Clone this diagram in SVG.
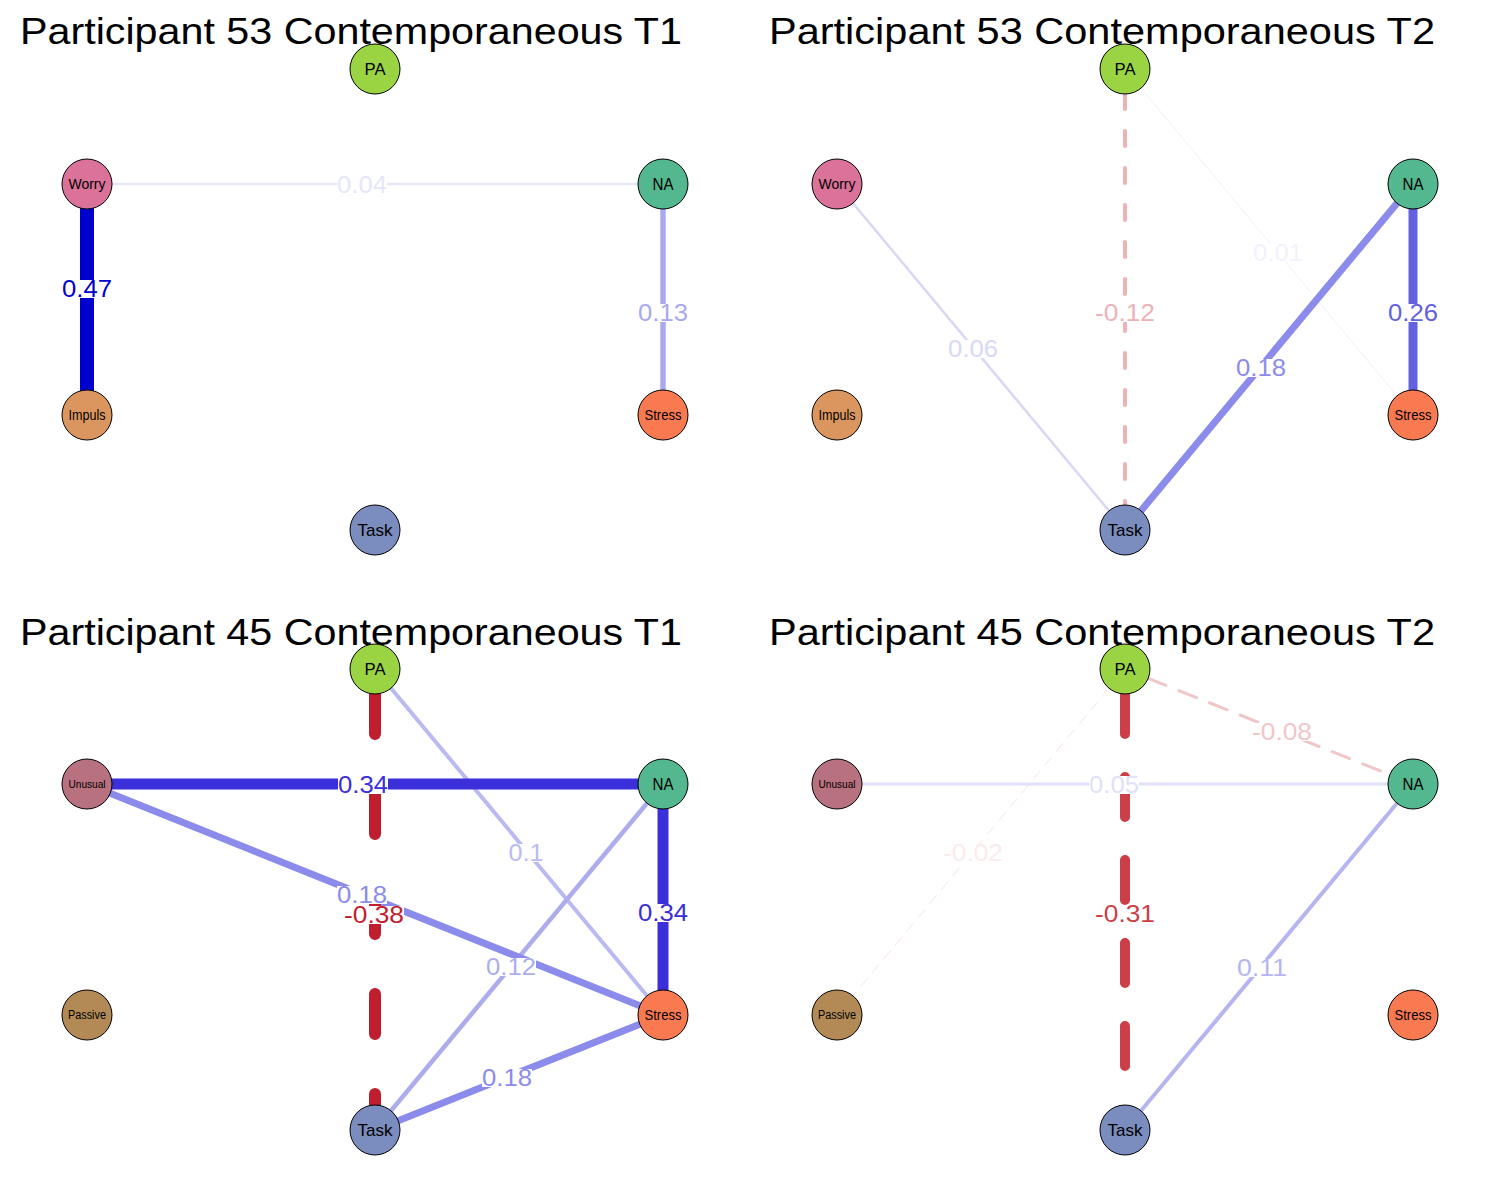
<svg xmlns="http://www.w3.org/2000/svg" width="1500" height="1200" viewBox="0 0 1500 1200">
<style>
  .title { font-family: "Liberation Sans", Arial, sans-serif; font-size: 37px; fill: #000; }
  .node circle { stroke: #000; stroke-width: 1; }
  .node text { font-family: "Liberation Sans", Arial, sans-serif; text-anchor: middle; fill: #000; }
  .edge { fill: none; stroke-linecap: round; }
  .el { font-family: "Liberation Sans", Arial, sans-serif; font-size: 23.5px; text-anchor: middle; }
  .bg { fill: #fff; }
</style>
<rect width="1500" height="1200" fill="#fff"/>

<g id="titles">
  <text class="title" x="20" y="44" textLength="662" lengthAdjust="spacingAndGlyphs">Participant 53 Contemporaneous T1</text>
  <text class="title" x="769" y="44" textLength="666" lengthAdjust="spacingAndGlyphs">Participant 53 Contemporaneous T2</text>
  <text class="title" x="20" y="645" textLength="662" lengthAdjust="spacingAndGlyphs">Participant 45 Contemporaneous T1</text>
  <text class="title" x="769" y="645" textLength="666" lengthAdjust="spacingAndGlyphs">Participant 45 Contemporaneous T2</text>
</g>

<g id="connectors">
  <!-- Panel 1 -->
  <line class="edge" x1="112" y1="184" x2="638" y2="184" stroke="#E6E6F9" stroke-width="2.5"/>
  <line class="edge" x1="663" y1="209" x2="663" y2="390" stroke="#A9A9EE" stroke-width="5.5" stroke-linecap="butt"/>
  <line class="edge" x1="87" y1="209" x2="87" y2="390" stroke="#0000CD" stroke-width="14" stroke-linecap="butt"/>

  <!-- Panel 2 -->
  <line class="edge" x1="1141" y1="88.2" x2="1397" y2="395.8" stroke="#F4F4FC" stroke-width="1.2"/>
  <line class="edge" x1="853" y1="203.2" x2="1109" y2="510.8" stroke="#D8D8F5" stroke-width="2.5"/>
  <line class="edge" x1="1125" y1="94" x2="1125" y2="505" stroke="#EEB2B6" stroke-width="4" stroke-dasharray="15 22"/>
  <line class="edge" x1="1397" y1="203.2" x2="1141" y2="510.8" stroke="#8B8BEB" stroke-width="7" stroke-linecap="butt"/>
  <line class="edge" x1="1413" y1="209" x2="1413" y2="390" stroke="#6262E0" stroke-width="9" stroke-linecap="butt"/>

  <!-- Panel 3 -->
  <line class="edge" x1="391" y1="688.2" x2="647" y2="995.8" stroke="#BABAF2" stroke-width="4"/>
  <line class="edge" x1="647" y1="803.2" x2="391" y2="1110.8" stroke="#ADADEE" stroke-width="4.5"/>
  <line class="edge" x1="110.2" y1="793.3" x2="639.8" y2="1005.7" stroke="#8B8BEB" stroke-width="7" stroke-linecap="butt"/>
  <line class="edge" x1="398.2" y1="1120.7" x2="639.8" y2="1024.3" stroke="#8B8BEB" stroke-width="7" stroke-linecap="butt"/>
  <line class="edge" x1="112" y1="784" x2="638" y2="784" stroke="#3B2FD9" stroke-width="11" stroke-linecap="butt"/>
  <line class="edge" x1="663" y1="809" x2="663" y2="990" stroke="#3B2FD9" stroke-width="11" stroke-linecap="butt"/>
  <line class="edge" x1="375" y1="694" x2="375" y2="1105" stroke="#BE1E2D" stroke-width="12" stroke-dasharray="40 60"/>

  <!-- Panel 4 -->
  <line class="edge" x1="1109" y1="688.2" x2="853" y2="995.8" stroke="#FBECEC" stroke-width="1.2" stroke-dasharray="10 8"/>
  <line class="edge" x1="862" y1="784" x2="1388" y2="784" stroke="#E0E0F8" stroke-width="3"/>
  <line class="edge" x1="1148.2" y1="678.3" x2="1389.8" y2="774.7" stroke="#F1C6C8" stroke-width="3" stroke-dasharray="19 14"/>
  <line class="edge" x1="1397" y1="803.2" x2="1141" y2="1110.8" stroke="#B5B5F1" stroke-width="4"/>
  <line class="edge" x1="1125" y1="694" x2="1125" y2="1105" stroke="#CC3F48" stroke-width="10" stroke-dasharray="40 43"/>

  <!-- Edge labels -->
  <g id="edge-labels">
    <rect class="bg" x="337" y="176" width="50" height="18"/>
    <text class="el" x="362" y="193" fill="#E6E6F9" textLength="50" lengthAdjust="spacingAndGlyphs">0.04</text>
    <rect class="bg" x="62" y="280" width="50" height="18"/>
    <text class="el" x="87" y="297" fill="#0000CD" textLength="50" lengthAdjust="spacingAndGlyphs">0.47</text>
    <rect class="bg" x="638" y="304" width="50" height="18"/>
    <text class="el" x="663" y="321" fill="#A9A9EE" textLength="50" lengthAdjust="spacingAndGlyphs">0.13</text>

    <rect class="bg" x="1253" y="244" width="50" height="18"/>
    <text class="el" x="1278" y="261" fill="#F2F2FC" textLength="50" lengthAdjust="spacingAndGlyphs">0.01</text>
    <rect class="bg" x="948" y="340" width="50" height="18"/>
    <text class="el" x="973" y="357" fill="#D8D8F5" textLength="50" lengthAdjust="spacingAndGlyphs">0.06</text>
    <rect class="bg" x="1095" y="304" width="60" height="18"/>
    <text class="el" x="1125" y="321" fill="#EEB2B6" textLength="60" lengthAdjust="spacingAndGlyphs">-0.12</text>
    <rect class="bg" x="1236" y="359" width="50" height="18"/>
    <text class="el" x="1261" y="376" fill="#8B8BEB" textLength="50" lengthAdjust="spacingAndGlyphs">0.18</text>
    <rect class="bg" x="1388" y="304" width="50" height="18"/>
    <text class="el" x="1413" y="321" fill="#6262E0" textLength="50" lengthAdjust="spacingAndGlyphs">0.26</text>

    <rect class="bg" x="509" y="844" width="35" height="18"/>
    <text class="el" x="526" y="861" fill="#BABAF2" textLength="35" lengthAdjust="spacingAndGlyphs">0.1</text>
    <rect class="bg" x="486" y="958" width="50" height="18"/>
    <text class="el" x="511" y="975" fill="#ADADEE" textLength="50" lengthAdjust="spacingAndGlyphs">0.12</text>
    <rect class="bg" x="337" y="886" width="50" height="18"/>
    <text class="el" x="362" y="903" fill="#8B8BEB" textLength="50" lengthAdjust="spacingAndGlyphs">0.18</text>
    <rect class="bg" x="482" y="1069" width="50" height="18"/>
    <text class="el" x="507" y="1086" fill="#8B8BEB" textLength="50" lengthAdjust="spacingAndGlyphs">0.18</text>
    <rect class="bg" x="338" y="776" width="50" height="18"/>
    <text class="el" x="363" y="793" fill="#3B2FD9" textLength="50" lengthAdjust="spacingAndGlyphs">0.34</text>
    <rect class="bg" x="638" y="904" width="50" height="18"/>
    <text class="el" x="663" y="921" fill="#3B2FD9" textLength="50" lengthAdjust="spacingAndGlyphs">0.34</text>
    <rect class="bg" x="344" y="906" width="60" height="18"/>
    <text class="el" x="374" y="923" fill="#BE1E2D" textLength="60" lengthAdjust="spacingAndGlyphs">-0.38</text>

    <rect class="bg" x="943" y="844" width="60" height="18"/>
    <text class="el" x="973" y="861" fill="#FBECEC" textLength="60" lengthAdjust="spacingAndGlyphs">-0.02</text>
    <rect class="bg" x="1089" y="776" width="50" height="18"/>
    <text class="el" x="1114" y="793" fill="#E0E0F8" textLength="50" lengthAdjust="spacingAndGlyphs">0.05</text>
    <rect class="bg" x="1252" y="723" width="60" height="18"/>
    <text class="el" x="1282" y="740" fill="#F1C6C8" textLength="60" lengthAdjust="spacingAndGlyphs">-0.08</text>
    <rect class="bg" x="1237" y="959" width="50" height="18"/>
    <text class="el" x="1262" y="976" fill="#B5B5F1" textLength="50" lengthAdjust="spacingAndGlyphs">0.11</text>
    <rect class="bg" x="1095" y="905" width="60" height="18"/>
    <text class="el" x="1125" y="922" fill="#CC3F48" textLength="60" lengthAdjust="spacingAndGlyphs">-0.31</text>
  </g>
</g>

<!-- Panel 1 nodes -->
<g id="p1-PA" class="node"><circle cx="375" cy="69" r="25" fill="#9AD443"/><text x="375" y="75" font-size="17" textLength="21" lengthAdjust="spacingAndGlyphs">PA</text></g>
<g id="p1-Worry" class="node"><circle cx="87" cy="184" r="25" fill="#DB7299"/><text x="87" y="189" font-size="14" textLength="37" lengthAdjust="spacingAndGlyphs">Worry</text></g>
<g id="p1-NA" class="node"><circle cx="663" cy="184" r="25" fill="#53B790"/><text x="663" y="190" font-size="17" textLength="21" lengthAdjust="spacingAndGlyphs">NA</text></g>
<g id="p1-Impuls" class="node"><circle cx="87" cy="415" r="25" fill="#DB965F"/><text x="87" y="420" font-size="14" textLength="37" lengthAdjust="spacingAndGlyphs">Impuls</text></g>
<g id="p1-Stress" class="node"><circle cx="663" cy="415" r="25" fill="#F97A50"/><text x="663" y="420" font-size="14" textLength="37" lengthAdjust="spacingAndGlyphs">Stress</text></g>
<g id="p1-Task" class="node"><circle cx="375" cy="530" r="25" fill="#7B8CBE"/><text x="375" y="536" font-size="17" textLength="35" lengthAdjust="spacingAndGlyphs">Task</text></g>

<!-- Panel 2 nodes -->
<g id="p2-PA" class="node"><circle cx="1125" cy="69" r="25" fill="#9AD443"/><text x="1125" y="75" font-size="17" textLength="21" lengthAdjust="spacingAndGlyphs">PA</text></g>
<g id="p2-Worry" class="node"><circle cx="837" cy="184" r="25" fill="#DB7299"/><text x="837" y="189" font-size="14" textLength="37" lengthAdjust="spacingAndGlyphs">Worry</text></g>
<g id="p2-NA" class="node"><circle cx="1413" cy="184" r="25" fill="#53B790"/><text x="1413" y="190" font-size="17" textLength="21" lengthAdjust="spacingAndGlyphs">NA</text></g>
<g id="p2-Impuls" class="node"><circle cx="837" cy="415" r="25" fill="#DB965F"/><text x="837" y="420" font-size="14" textLength="37" lengthAdjust="spacingAndGlyphs">Impuls</text></g>
<g id="p2-Stress" class="node"><circle cx="1413" cy="415" r="25" fill="#F97A50"/><text x="1413" y="420" font-size="14" textLength="37" lengthAdjust="spacingAndGlyphs">Stress</text></g>
<g id="p2-Task" class="node"><circle cx="1125" cy="530" r="25" fill="#7B8CBE"/><text x="1125" y="536" font-size="17" textLength="35" lengthAdjust="spacingAndGlyphs">Task</text></g>

<!-- Panel 3 nodes -->
<g id="p3-PA" class="node"><circle cx="375" cy="669" r="25" fill="#9AD443"/><text x="375" y="675" font-size="17" textLength="21" lengthAdjust="spacingAndGlyphs">PA</text></g>
<g id="p3-Unusual" class="node"><circle cx="87" cy="784" r="25" fill="#B8717F"/><text x="87" y="788" font-size="11" textLength="37" lengthAdjust="spacingAndGlyphs">Unusual</text></g>
<g id="p3-NA" class="node"><circle cx="663" cy="784" r="25" fill="#53B790"/><text x="663" y="790" font-size="17" textLength="21" lengthAdjust="spacingAndGlyphs">NA</text></g>
<g id="p3-Passive" class="node"><circle cx="87" cy="1015" r="25" fill="#B38A56"/><text x="87" y="1019" font-size="12" textLength="38" lengthAdjust="spacingAndGlyphs">Passive</text></g>
<g id="p3-Stress" class="node"><circle cx="663" cy="1015" r="25" fill="#F97A50"/><text x="663" y="1020" font-size="14" textLength="37" lengthAdjust="spacingAndGlyphs">Stress</text></g>
<g id="p3-Task" class="node"><circle cx="375" cy="1130" r="25" fill="#7B8CBE"/><text x="375" y="1136" font-size="17" textLength="35" lengthAdjust="spacingAndGlyphs">Task</text></g>

<!-- Panel 4 nodes -->
<g id="p4-PA" class="node"><circle cx="1125" cy="669" r="25" fill="#9AD443"/><text x="1125" y="675" font-size="17" textLength="21" lengthAdjust="spacingAndGlyphs">PA</text></g>
<g id="p4-Unusual" class="node"><circle cx="837" cy="784" r="25" fill="#B8717F"/><text x="837" y="788" font-size="11" textLength="37" lengthAdjust="spacingAndGlyphs">Unusual</text></g>
<g id="p4-NA" class="node"><circle cx="1413" cy="784" r="25" fill="#53B790"/><text x="1413" y="790" font-size="17" textLength="21" lengthAdjust="spacingAndGlyphs">NA</text></g>
<g id="p4-Passive" class="node"><circle cx="837" cy="1015" r="25" fill="#B38A56"/><text x="837" y="1019" font-size="12" textLength="38" lengthAdjust="spacingAndGlyphs">Passive</text></g>
<g id="p4-Stress" class="node"><circle cx="1413" cy="1015" r="25" fill="#F97A50"/><text x="1413" y="1020" font-size="14" textLength="37" lengthAdjust="spacingAndGlyphs">Stress</text></g>
<g id="p4-Task" class="node"><circle cx="1125" cy="1130" r="25" fill="#7B8CBE"/><text x="1125" y="1136" font-size="17" textLength="35" lengthAdjust="spacingAndGlyphs">Task</text></g>
</svg>
